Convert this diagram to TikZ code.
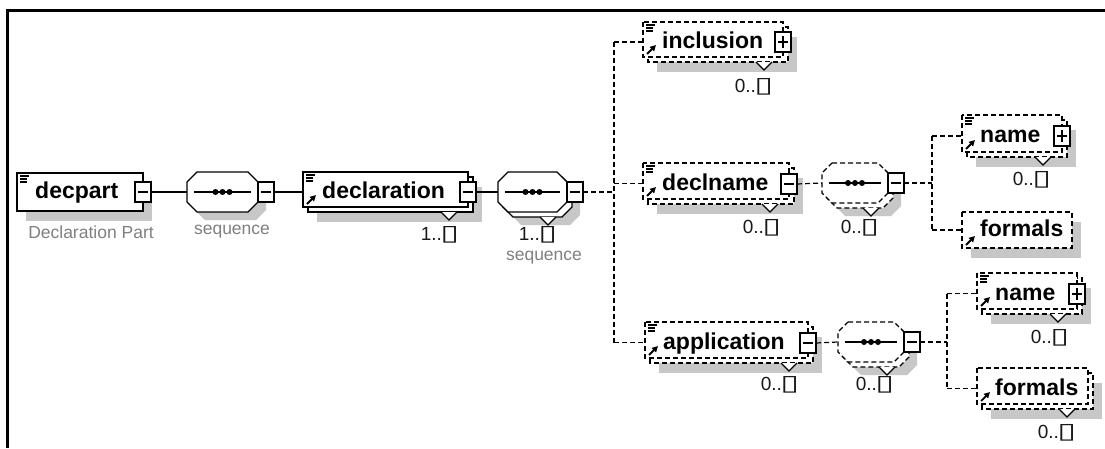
\documentclass[tikz,border=0pt]{standalone}
\usepackage{fontspec}
\usepackage{graphicx}
\setmainfont{Liberation Sans}
\newfontfamily\glyphfont{DejaVu Sans}
\usetikzlibrary{arrows.meta}

\tikzset{
  wire/.style={line width=1.2pt},
  optborder/.style={dash pattern=on 5pt off 3pt},
  dropshade/.style={fill=black!22, draw=none},
  boxline/.style={draw, fill=white, line width=1.2pt},
  hull/.style={inner sep=0pt, outer sep=0pt, draw=none},
  elabel/.style={font=\fontsize{23}{25}\selectfont\bfseries, inner sep=0pt, anchor=base west},
  multlabel/.style={font=\fontsize{19}{21}\selectfont, text=black!90, inner sep=0pt},
  greynote/.style={font=\fontsize{17.5}{20}\selectfont, text=black!50, inner sep=0pt},
  toggle/.style={draw, fill=white, line width=1.2pt, minimum width=16pt, minimum height=20pt, inner sep=0pt, outer sep=0pt},
  minusbox/.style={toggle, path picture={\draw[line width=1.2pt] ([xshift=3pt]path picture bounding box.west) -- ([xshift=-3pt]path picture bounding box.east);}},
  plusbox/.style={toggle, path picture={\draw[line width=1.2pt] ([xshift=3pt]path picture bounding box.west) -- ([xshift=-3pt]path picture bounding box.east) ([yshift=-4pt]path picture bounding box.north) -- ([yshift=4pt]path picture bounding box.south);}},
}

% the open-ended occurrence sign, printed as a box
\newcommand\many{\kern-1.5pt{\glyphfont\scalebox{1.8}[1.15]{▯}}}

% element box: name, x1, y1, x2, y2, border style, stack offset (0 = single)
\newcommand\xsdelement[7]{%
  \fill[dropshade] ({#2+#7+9},{#3+#7+10}) rectangle ({#4+#7+9},{#5+#7+10});
  \ifnum#7>0\relax
    \draw[boxline,#6] ({#2+#7},{#3+#7}) rectangle ({#4+#7},{#5+#7});
  \fi
  \draw[boxline,#6] (#2,#3) rectangle (#4,#5);
  \node[hull, minimum width={#4+#7-#2}, minimum height={#5+#7-#3}] (#1) at ({(#2+#4+#7)/2},{(#3+#5+#7)/2}) {};
}

% octagon outline between two corners
\newcommand\octagon[4]{({#1+10},{#2}) -- ({#3-10},{#2}) -- ({#3},{#2+10}) -- ({#3},{#4-10}) -- ({#3-10},{#4}) -- ({#1+10},{#4}) -- ({#1},{#4-10}) -- ({#1},{#2+10}) -- cycle}

% sequence compositor: name, x1, y1, x2, y2, border style, stack offset
\newcommand\xsdgroup[7]{%
  \fill[dropshade] \octagon{#2+#7+8}{#3+#7+8}{#4+#7+8}{#5+#7+8};
  \ifnum#7>0\relax
    \draw[boxline,#6] \octagon{#2+#7}{#3+#7}{#4+#7}{#5+#7};
  \fi
  \draw[boxline,#6] \octagon{#2}{#3}{#4}{#5};
  \node[hull, minimum width={#4-#2}, minimum height={#5-#3}] (#1) at ({(#2+#4)/2},{(#3+#5)/2}) {};
  \draw[line width=1.3pt] ([xshift=7pt]#1.west) -- ([xshift=-7pt]#1.east);
  \foreach \d in {-7,0,7} \fill ([xshift=\d pt]#1.center) circle (3pt);
}

% documentation mark (top left) and reference arrow (bottom left)
\newcommand\docmark[2]{\draw[line width=1.2pt] (#1+3,#2+3) -- ++(9,0) (#1+3,#2+6) -- ++(7,0) (#1+3,#2+9) -- ++(7,0);}
\newcommand\refmark[2]{\draw[line width=1.8pt,-{Triangle[length=6pt,width=6pt]}] (#1+4,#2-3) -- (#1+13,#2-12);}
% occurrence notch under a repeated item
\newcommand\occurs[2]{\draw[line width=1.2pt, fill=white] (#1-8,#2) -- (#1,#2+8) -- (#1+8,#2);}

\begin{document}
\begin{tikzpicture}[x=1pt,y=-1pt]
\useasboundingbox (0,0) rectangle (1105,448);
\fill[white] (0,0) rectangle (1105,448);
\draw[line width=3pt] (7,448) -- (7,10) -- (1105,10);

\coordinate (t1) at (614,0);
\coordinate (t2) at (932,0);
\coordinate (t3) at (947,0);

% decpart
\xsdelement{decpart}{17}{173}{143}{211}{}{0}
\docmark{17}{173}
\node[elabel] (decpart-t) at (35,198) {decpart};
\node[minusbox] (decpart-m) at (143,192) {};
\node[greynote] (decpart-n) at (91,232) {Declaration Part};

% first sequence
\xsdgroup{seq1}{187}{172}{258}{212}{}{0}
\node[minusbox] (seq1-m) at (266,192) {};
\node[greynote] (seq1-n) at (232,232) {sequence};

% declaration
\xsdelement{declaration}{303}{172}{468}{207}{}{5}
\occurs{449}{212}
\docmark{303}{172}
\refmark{303}{207}
\node[elabel] (declaration-t) at (322,198) {declaration};
\node[minusbox] (declaration-m) at (468,192) {};
\node[multlabel] (declaration-o) at (440,235) {1..\many};

% repeated sequence
\xsdgroup{seq2}{498}{172}{567}{212}{}{5}
\occurs{548}{217}
\node[minusbox] (seq2-m) at (575,192) {};
\node[multlabel] (seq2-o) at (538,235) {1..\many};
\node[greynote] (seq2-n) at (544,258) {sequence};

% inclusion
\xsdelement{inclusion}{643}{22}{783}{57}{optborder}{5}
\occurs{764}{62}
\docmark{643}{22}
\refmark{643}{57}
\node[elabel] (inclusion-t) at (662,48) {inclusion};
\node[plusbox] (inclusion-p) at (783,42) {};
\node[multlabel] (inclusion-o) at (754,87) {0..\many};

% declname
\xsdelement{declname}{643}{163}{789}{199}{optborder}{5}
\occurs{770}{204}
\docmark{643}{163}
\refmark{643}{199}
\node[elabel] (declname-t) at (662,190) {declname};
\node[minusbox] (declname-m) at (789,184) {};
\node[multlabel] (declname-o) at (762,228) {0..\many};

\xsdgroup{seq3}{822}{163}{888}{203}{optborder}{5}
\occurs{871}{208}
\node[minusbox] (seq3-m) at (896,183) {};
\node[multlabel] (seq3-o) at (860,228) {0..\many};

\xsdelement{name1}{962}{115}{1062}{152}{optborder}{5}
\occurs{1043}{157}
\docmark{962}{115}
\refmark{962}{152}
\node[elabel] (name1-t) at (980,142) {name};
\node[plusbox] (name1-p) at (1062,136) {};
\node[multlabel] (name1-o) at (1032,180) {0..\many};

\xsdelement{formals1}{962}{212}{1072}{248}{optborder}{0}
\refmark{962}{248}
\node[elabel] (formals1-t) at (980,236) {formals};

% application
\xsdelement{application}{645}{322}{808}{358}{optborder}{5}
\occurs{789}{363}
\docmark{645}{322}
\refmark{645}{358}
\node[elabel] (application-t) at (663,349) {application};
\node[minusbox] (application-m) at (808,343) {};
\node[multlabel] (application-o) at (780,385) {0..\many};

\xsdgroup{seq4}{838}{322}{904}{362}{optborder}{5}
\occurs{887}{367}
\node[minusbox] (seq4-m) at (912,342) {};
\node[multlabel] (seq4-o) at (875,385) {0..\many};

\xsdelement{name2}{977}{273}{1077}{309}{optborder}{5}
\occurs{1058}{314}
\docmark{977}{273}
\refmark{977}{309}
\node[elabel] (name2-t) at (995,300) {name};
\node[plusbox] (name2-p) at (1077,294) {};
\node[multlabel] (name2-o) at (1050,338) {0..\many};

\xsdelement{formals2}{977}{368}{1088}{404}{optborder}{5}
\occurs{1067}{409}
\refmark{977}{404}
\node[elabel] (formals2-t) at (995,395) {formals};
\node[multlabel] (formals2-o) at (1057,433) {0..\many};

% connectors
\draw[wire] (decpart-m.east) -- (seq1.west);
\draw[wire] (seq1-m.east) -- (declaration.west);
\draw[wire] (declaration-m.east) -- (seq2.west);
\draw[wire,optborder] (seq2-m.east) -- (seq2-m.east -| t1);
\draw[wire,optborder] (t1 |- inclusion.west) -- (t1 |- application.west);
\draw[wire,optborder] (t1 |- inclusion.west) -- (inclusion.west);
\draw[wire,optborder] (t1 |- declname.west) -- (declname.west);
\draw[wire,optborder] (t1 |- application.west) -- (application.west);

\draw[wire,optborder] (declname-m.east) -- (seq3.west);
\draw[wire,optborder] (seq3-m.east) -- (seq3-m.east -| t2);
\draw[wire,optborder] (t2 |- name1.west) -- (t2 |- formals1.west);
\draw[wire,optborder] (t2 |- name1.west) -- (name1.west);
\draw[wire,optborder] (t2 |- formals1.west) -- (formals1.west);

\draw[wire,optborder] (application-m.east) -- (seq4.west);
\draw[wire,optborder] (seq4-m.east) -- (seq4-m.east -| t3);
\draw[wire,optborder] (t3 |- name2.west) -- (t3 |- formals2.west);
\draw[wire,optborder] (t3 |- name2.west) -- (name2.west);
\draw[wire,optborder] (t3 |- formals2.west) -- (formals2.west);
\end{tikzpicture}
\end{document}
